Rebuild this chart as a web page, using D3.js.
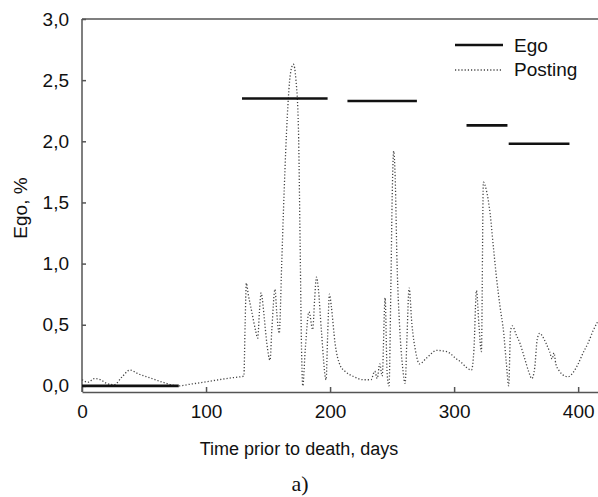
<!DOCTYPE html>
<html>
<head>
<meta charset="utf-8">
<script src="https://cdn.jsdelivr.net/npm/d3@7"></script>
<style>
  body { margin: 0; background: #fff; }
  svg { display: block; }
  text { font-family: "Liberation Sans", Arial, sans-serif; fill: #111; }
</style>
</head>
<body>
<div id="chart"></div>
<script>
// Posting curve (days prior to death, %)
const postDays = [0, 5, 10, 15, 20, 26, 32, 38.7, 45, 55, 65, 77.5, 88, 98, 110, 120, 128, 130.5,
  131.5, 132.5, 134, 137, 140, 141.7, 143, 144.4, 145.5, 147, 149, 151.6, 153, 155.6, 157, 159,
  161, 163, 165.5, 168, 170.4, 172.5, 174.5, 175.8, 177, 178, 180, 183, 186, 187.5, 189, 190.5,
  193, 196.8, 198, 199.5, 201, 204, 208, 212, 219, 227, 233, 236, 238, 240, 242, 244.4, 246,
  247.5, 249, 250, 251.3, 252.5, 254, 256, 258.5, 260.5, 262, 263.7, 266, 269, 272, 278, 286,
  294, 302, 306, 310, 314, 316, 318, 320, 322, 323.6, 326, 329, 332, 334, 337, 340, 342, 344,
  345.5, 347, 350, 353, 357, 360, 362.7, 365, 367, 369, 371, 374, 377, 379, 380.5, 382, 385,
  389.5, 392, 396, 400, 404, 408, 412, 416];
const postValues = [0.05, 0.03, 0.06, 0.05, 0.02, 0.01, 0.07, 0.13, 0.1, 0.065, 0.03, 0.0, 0.015, 0.03, 0.05, 0.065, 0.075, 0.08,
  0.5, 0.84, 0.75, 0.6, 0.45, 0.39, 0.6, 0.76, 0.7, 0.55, 0.35, 0.21, 0.45, 0.79, 0.6, 0.43,
  1.0, 1.6, 2.2, 2.55, 2.63, 2.5, 2.1, 1.2, 0.3, 0.0, 0.3, 0.605, 0.46, 0.7, 0.89, 0.8,
  0.45, 0.05, 0.4, 0.75, 0.65, 0.35, 0.17, 0.12, 0.076, 0.05, 0.05, 0.12, 0.06, 0.18, 0.08, 0.72, 0.1,
  0.0, 0.8, 1.5, 1.92, 1.7, 1.0, 0.5, 0.15, 0.02, 0.4, 0.8, 0.5, 0.28, 0.18, 0.23, 0.29,
  0.28, 0.22, 0.19, 0.15, 0.13, 0.3, 0.78, 0.5, 0.28, 1.665, 1.6, 1.41, 1.1, 0.9, 0.65, 0.43, 0.2, 0.0,
  0.45, 0.49, 0.42, 0.35, 0.22, 0.12, 0.06, 0.15, 0.38, 0.43, 0.41, 0.35, 0.28, 0.22, 0.27, 0.18, 0.12,
  0.08, 0.075, 0.11, 0.18, 0.27, 0.35, 0.45, 0.53];

// Ego segments
const egoStart = [0, 129, 214, 310, 344];
const egoEnd = [78, 198, 270, 343, 393];
const egoValue = [0.0, 2.35, 2.33, 2.13, 1.98];

const xTicks = [0, 100, 200, 300, 400];
const yTicks = [0, 0.5, 1.0, 1.5, 2.0, 2.5, 3.0];

const W = 598, H = 497;
const svg = d3.select("#chart").append("svg")
  .attr("width", W).attr("height", H);

const x = d3.scaleLinear().domain([0, 416]).range([82, 598]);
const y = d3.scaleLinear().domain([-0.05, 3.0]).range([392, 19]);

const axisColor = "#555";

// frame: top border
svg.append("line")
  .attr("x1", x(0)).attr("x2", W).attr("y1", y(3.0)).attr("y2", y(3.0))
  .attr("stroke", axisColor).attr("stroke-width", 1.5);

// x axis
const xAxis = svg.append("g")
  .attr("transform", `translate(0,${y(-0.05)})`)
  .call(d3.axisBottom(x).tickValues(xTicks).tickSizeInner(-5).tickSizeOuter(0).tickPadding(13));
// y axis
const yAxis = svg.append("g")
  .attr("transform", `translate(${x(0)},0)`)
  .call(d3.axisLeft(y).tickValues(yTicks).tickSizeInner(-4).tickSizeOuter(0).tickPadding(13)
    .tickFormat(d => d3.format(".1f")(d).replace(".", ",")));

[xAxis, yAxis].forEach(g => {
  g.select(".domain").attr("stroke", axisColor).attr("stroke-width", 1.5);
  g.selectAll(".tick line").attr("stroke", axisColor).attr("stroke-width", 1.5);
  g.selectAll(".tick text").attr("font-size", 19).attr("fill", "#111")
    .attr("font-family", "Liberation Sans, Arial, sans-serif");
});
yAxis.select(".domain").attr("d", `M0,${y(-0.05)}V${y(3.0)}`);

// posting curve
const postData = postDays.map((d, i) => ({ day: d, v: postValues[i] }));
const line = d3.line()
  .x(d => x(d.day))
  .y(d => y(d.v))
  .curve(d3.curveMonotoneX);

svg.append("path")
  .datum(postData)
  .attr("d", line)
  .attr("fill", "none")
  .attr("stroke", "#444")
  .attr("stroke-width", 1.3)
  .attr("stroke-dasharray", "1.2,2");

// ego segments
svg.append("g").selectAll("line")
  .data(egoValue)
  .join("line")
  .attr("x1", (d, i) => x(egoStart[i]))
  .attr("x2", (d, i) => x(egoEnd[i]))
  .attr("y1", d => y(d))
  .attr("y2", d => y(d))
  .attr("stroke", "#111")
  .attr("stroke-width", 2.6);

// legend
const legend = svg.append("g");
legend.append("line")
  .attr("x1", 455).attr("x2", 503).attr("y1", 45).attr("y2", 45)
  .attr("stroke", "#111").attr("stroke-width", 2.4);
legend.append("text").attr("x", 514).attr("y", 52).attr("font-size", 19).text("Ego");
legend.append("line")
  .attr("x1", 455).attr("x2", 501).attr("y1", 70).attr("y2", 70)
  .attr("stroke", "#444").attr("stroke-width", 1.3).attr("stroke-dasharray", "1.2,2");
legend.append("text").attr("x", 514).attr("y", 76).attr("font-size", 19).text("Posting");

// axis titles
svg.append("text")
  .attr("x", 299).attr("y", 455)
  .attr("text-anchor", "middle").attr("font-size", 18)
  .text("Time prior to death, days");

svg.append("text")
  .attr("transform", `translate(27,208) rotate(-90)`)
  .attr("text-anchor", "middle").attr("font-size", 19)
  .text("Ego, %");

svg.append("text")
  .attr("x", 300).attr("y", 491)
  .attr("text-anchor", "middle")
  .attr("font-size", 22)
  .style("font-family", "Liberation Serif, Times New Roman, serif")
  .text("a)");
</script>
</body>
</html>
